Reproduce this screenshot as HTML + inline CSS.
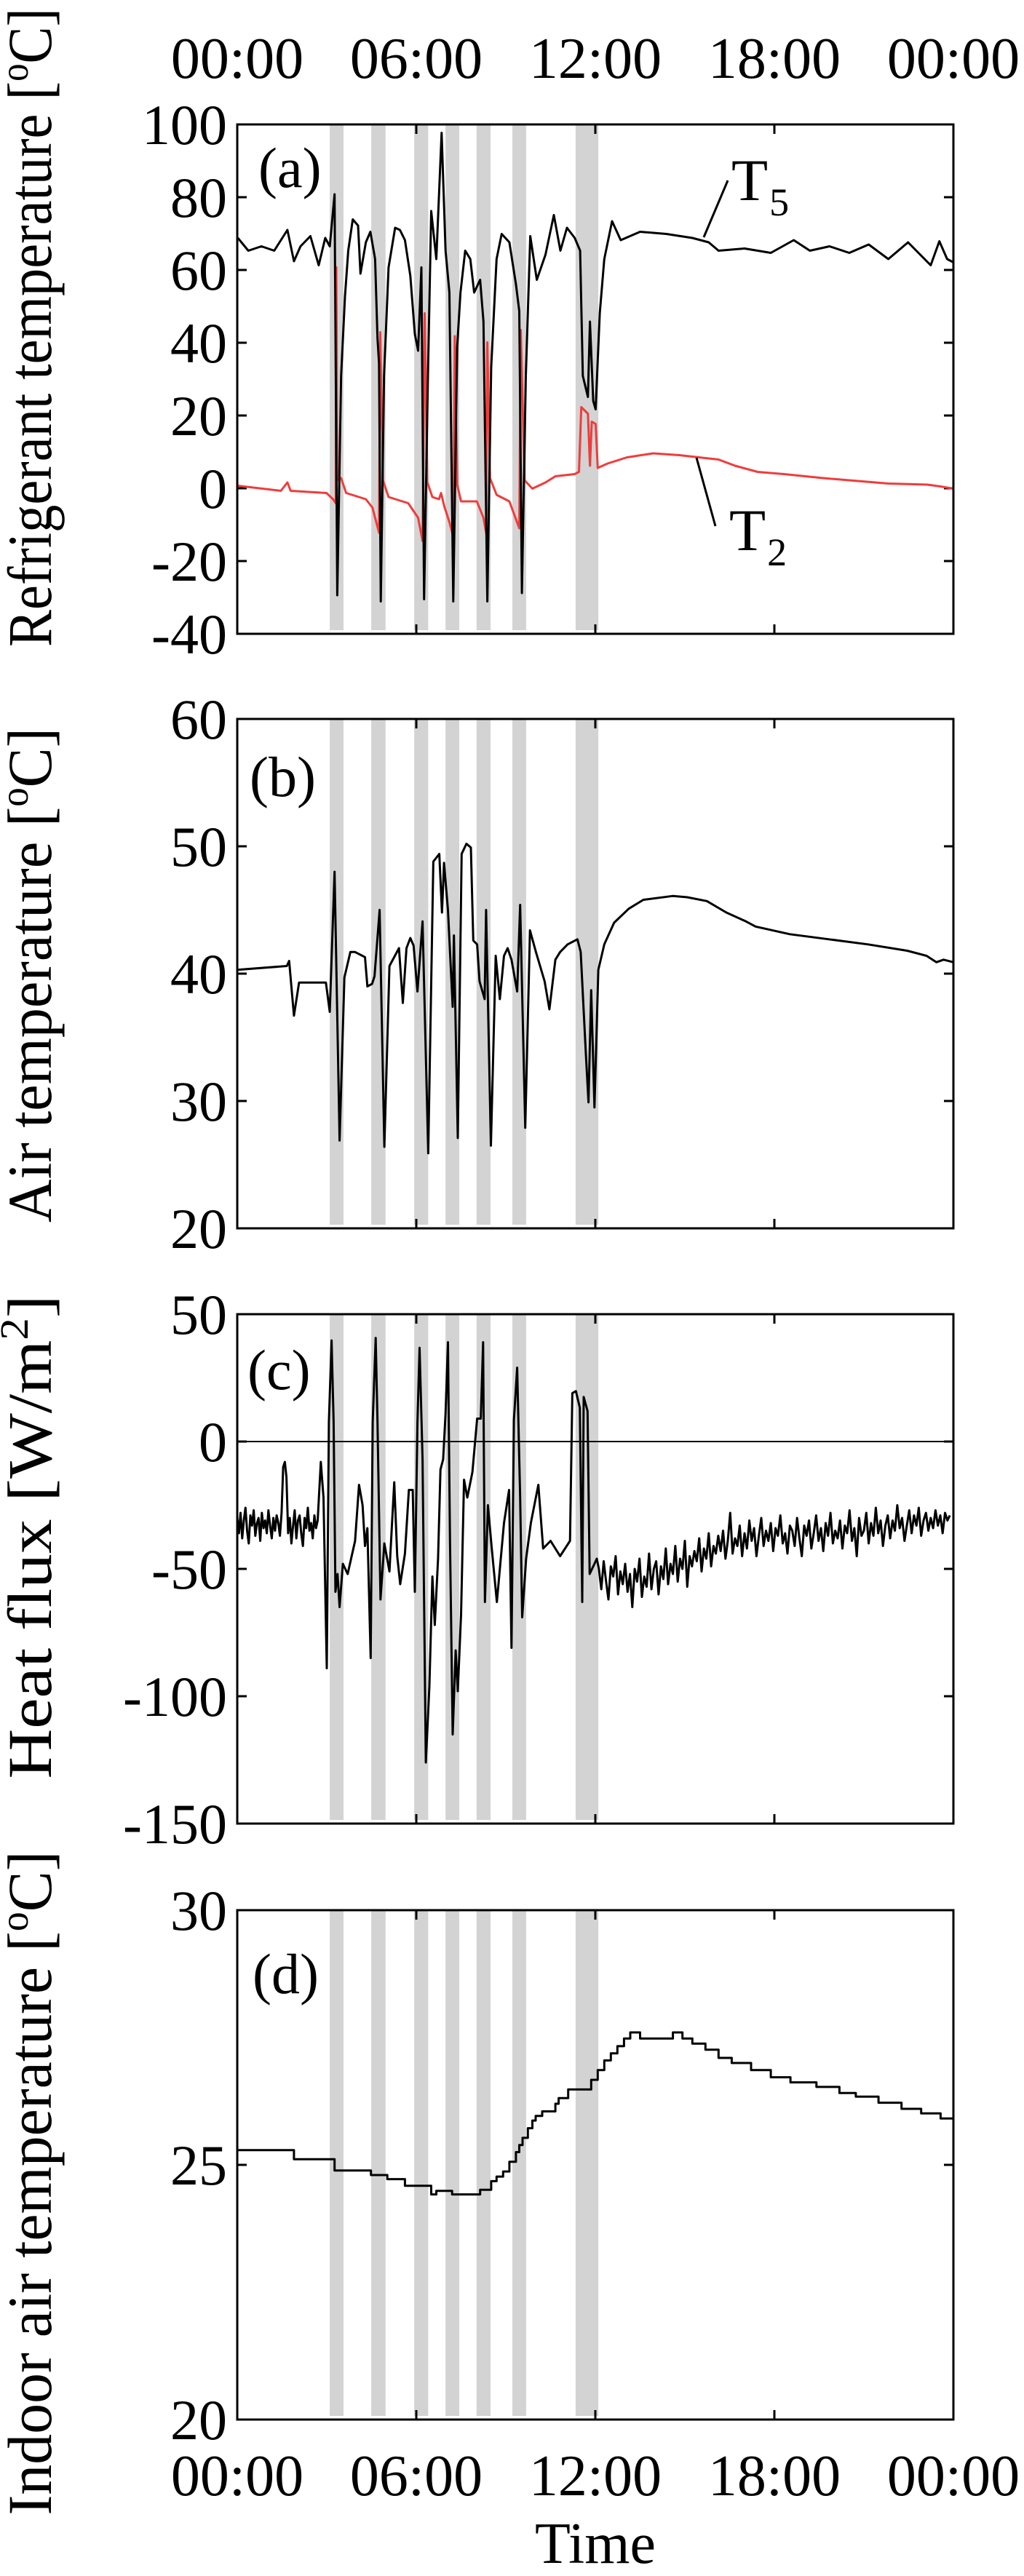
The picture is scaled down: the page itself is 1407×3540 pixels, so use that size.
<!DOCTYPE html>
<html><head><meta charset="utf-8"><style>
html,body{margin:0;padding:0;background:#fff;}
svg{display:block;font-family:"Liberation Serif",serif;}
</style></head><body>
<svg id="fig" width="1407" height="3540" viewBox="0 0 1407 3540" xmlns="http://www.w3.org/2000/svg"></svg>
<script>
// ---- data ----
const xTickLabels = ["00:00","06:00","12:00","18:00","00:00"];
const xTickHours = [0,6,12,18,24];
const shadeStart = [3.1,4.49,5.93,6.98,8.02,9.22,11.34];
const shadeEnd   = [3.56,4.97,6.4,7.44,8.49,9.68,12.1];

const t5Times = [0.02,0.37,0.81,1.24,1.68,1.9,2.12,2.45,2.73,2.95,3.1,3.26,3.35,3.48,3.61,3.72,3.87,4.05,4.13,4.31,4.46,4.62,4.7,4.75,4.81,4.92,5.07,5.29,5.45,5.62,5.8,5.95,6.06,6.17,6.26,6.39,6.5,6.67,6.85,6.98,7.11,7.24,7.37,7.48,7.64,7.81,7.94,8.14,8.25,8.38,8.51,8.69,8.86,9.12,9.34,9.45,9.54,9.67,9.82,10.04,10.33,10.61,10.83,11.05,11.31,11.49,11.58,11.75,11.82,11.93,12.01,12.15,12.3,12.56,12.85,13.5,14.38,15.25,15.8,16.13,17.0,17.88,18.65,19.19,19.85,20.51,21.16,21.82,22.48,23.24,23.53,23.79,24.0];
const t5Values = [68.8,65.3,66.5,65.3,71,62.4,66.5,69.3,61.3,68.8,66.5,80.8,-29.4,30.9,52.7,65.3,73.9,72.2,59,67.6,70.5,63,41.2,34.3,-31.1,30.9,60.7,71.6,71,68.2,58.4,42.4,37.8,60.7,-30.5,30.9,76.2,63,97.7,65.3,53.8,-31.1,38.9,53.8,65.3,63,53.8,57.3,45.8,-31.1,33.2,63,69.9,67.6,56.1,48.7,-28.8,30.9,69.3,57.3,64.2,75.1,65.3,71.6,68.8,65.3,30.9,25.1,45.8,24,21.7,48.1,63,73.4,68.2,70.5,69.9,68.8,67.6,65.3,65.9,64.7,68.2,65.3,66.5,64.7,67,63,67.6,61.3,67.9,63,62.1];

const t2Times = [0.02,1.46,1.68,1.79,2.99,3.21,3.3,3.32,3.35,3.48,3.65,4.31,4.53,4.75,4.79,4.88,5.07,5.73,6.06,6.21,6.28,6.37,6.54,6.76,6.83,6.94,7.11,7.24,7.29,7.37,7.5,8.03,8.25,8.34,8.38,8.47,8.69,9.12,9.45,9.5,9.63,9.89,10.33,10.66,11.31,11.45,11.53,11.75,11.82,11.88,12.01,12.08,12.41,13.06,13.94,14.82,15.47,16.13,16.68,17.44,18.32,19.63,20.51,21.82,23.13,23.57,24.0];
const t2Values = [0.7,-0.7,1.6,-0.7,-1.3,-3,-4.1,60.7,2.2,2.8,-1.3,-3,-5.3,-12.2,42.9,2.2,-2.4,-4.1,-8.1,-14.5,48.1,1.6,-2.4,-3,-1.3,-5,-9.3,-13.3,41.8,1,-3.6,-3.6,-8.1,-12.2,40.1,2.8,-1.8,-3.6,-11,43.5,2.2,-0.1,1.6,3.3,3.9,4.5,22.3,20.5,6.2,18.3,17.7,5.6,6.8,8.5,9.6,9.1,8.5,7.9,6.2,4.5,3.9,2.8,2.2,1.3,1,0.5,-0.1];

const airTimes = [0.0,1.66,1.74,1.9,2.07,2.97,3.1,3.26,3.43,3.59,3.79,3.95,4.28,4.36,4.52,4.6,4.77,4.93,5.1,5.42,5.55,5.67,5.8,5.91,6.04,6.21,6.4,6.57,6.77,6.86,6.93,7.06,7.22,7.26,7.39,7.52,7.68,7.83,7.91,8.04,8.12,8.29,8.34,8.5,8.66,8.8,8.94,9.06,9.19,9.38,9.48,9.65,9.81,10.01,10.3,10.46,10.66,10.82,11.07,11.4,11.51,11.68,11.77,11.86,11.97,12.1,12.3,12.63,13.12,13.61,14.59,15.08,15.74,16.39,17.05,17.37,18.52,19.83,21.14,22.45,23.1,23.43,23.67,24.0];
const airValues = [40.3,40.6,41,36.7,39.3,39.3,37,48,26.9,39.7,41.7,41.7,41.3,39,39.2,39.8,45,26.4,40.6,42,37.7,42,42.8,42.2,38.6,44.1,25.9,48.8,49.4,44.8,48.7,45,37.4,43,27.1,49.4,50.2,49.9,42.6,42.3,39.4,38,45,26.5,41.4,38,41.4,42,41.1,38.6,45.4,27.9,43.4,41.7,39.4,37.2,41.1,41.7,42.3,42.7,41.7,33.8,29.9,38.7,29.5,40.3,42.3,44,45.1,45.8,46.1,46,45.7,44.8,44.1,43.7,43.1,42.7,42.3,41.8,41.4,40.9,41.1,40.9];

const fluxQuietStart = 0, fluxQuietStep = 0.055;
const fluxQuietValues = [-30,-36,-28,-38,-31,-26,-35,-40,-29,-33,-27,-37,-32,-30,-39,-28,-34,-31,-36,-27,-33,-38,-30,-35,-29,-32,-37,-28,-10,-8,-14,-36,-30,-40,-33,-27,-38,-31,-29,-36,-41,-30,-34,-26,-35,-32,-38,-29,-34,-31];
const fluxEventTimes = [2.8,2.89,3.0,3.07,3.16,3.23,3.29,3.36,3.43,3.54,3.7,3.95,4.08,4.2,4.28,4.36,4.47,4.54,4.64,4.7,4.8,4.93,5.1,5.26,5.36,5.46,5.62,5.75,5.88,5.95,6.04,6.11,6.21,6.32,6.44,6.54,6.62,6.73,6.81,6.9,6.98,7.06,7.13,7.22,7.32,7.39,7.5,7.6,7.71,7.88,8.04,8.16,8.24,8.3,8.4,8.53,8.7,8.94,9.11,9.19,9.27,9.38,9.48,9.55,9.68,9.84,10.09,10.25,10.5,10.82,11.15,11.23,11.35,11.48,11.56,11.61,11.74,11.81,11.97,12.05];
const fluxEventValues = [-8,-22,-89,7.7,39.7,7.7,-59,-52,-65,-48,-52,-39,-17,-25,-41,-34,-85,7.7,40.7,7.7,-62,-40,-51,-16,-45,-56,-44,-19,-19,-59,7.7,36.8,-7,-126,-96,-53,-72,-46,-11,-7,11,39,-39,-115,-82,-98,-68,-15,-22,-12,9,9,39,-63,-25,-42,-63,-32,-19,-81,8.4,29,-22,-69,-46,-32,-17,-42,-39,-45,-39,19,19.8,13.3,-63,17.5,12,-52,-48,-46];
const fluxTailStart = 12.12, fluxTailStep = 0.08;
const fluxTailValues = [-50,-58,-47,-55,-62,-49,-53,-45,-60,-51,-56,
-48,-59,-52,-65,-50,-55,-46,-61,-53,-57,
-44,-58,-50,-47,-60,-49,-54,-42,-56,-48,
-52,-41,-55,-46,-50,-39,-57,-45,-49,-43,
-47,-38,-51,-42,-46,-36,-49,-41,-44,-37,
-43,-35,-46,-39,-28,-44,-38,-41,-33,-45,
-36,-42,-31,-39,-34,-45,-37,-30,-41,-35,
-39,-32,-43,-34,-37,-29,-40,-36,-44,-33,
-35,-41,-30,-38,-45,-33,-37,-31,-42,-36,
-29,-39,-34,-43,-32,-37,-28,-40,-35,-38,
-31,-42,-33,-36,-27,-39,-34,-45,-30,-37,
-35,-28,-40,-32,-37,-26,-36,-31,-41,-33,
-29,-38,-31,-35,-25,-34,-30,-39,-33,-27,
-36,-29,-33,-26,-37,-31,-28,-35,-30,-34,
-27,-33,-29,-36,-28,-31,-29];

const indoorTimes = [0.0,1.79,1.9,3.1,3.26,4.42,4.48,4.97,5.03,5.58,5.62,6.39,6.5,6.67,7.15,7.2,8.03,8.14,8.42,8.51,8.69,8.91,9.12,9.34,9.45,9.56,9.74,9.89,10.0,10.22,10.66,10.77,11.09,11.64,11.86,12.08,12.3,12.52,12.74,12.96,13.17,13.5,14.6,14.92,15.25,15.69,16.13,16.57,17.22,17.88,18.54,19.41,20.18,20.73,21.49,22.26,22.92,23.57];
const indoorValues = [25.29,25.29,25.11,25.11,24.89,24.89,24.8,24.8,24.72,24.72,24.59,24.59,24.42,24.49,24.49,24.42,24.42,24.51,24.51,24.68,24.77,24.87,25.06,25.25,25.39,25.53,25.72,25.87,25.96,26.05,26.2,26.31,26.48,26.48,26.67,26.86,27.05,27.19,27.33,27.48,27.6,27.48,27.6,27.48,27.38,27.26,27.1,27.0,26.86,26.72,26.62,26.53,26.41,26.34,26.22,26.1,26.01,25.91];

// ---- layout ----
const NS="http://www.w3.org/2000/svg";
const svg=document.getElementById('fig');
const X0=326, X1=1310, PH=700;
const xs=h=>X0+(h/24)*(X1-X0);
function el(tag,attrs,parent){const e=document.createElementNS(NS,tag);for(const k in attrs)e.setAttribute(k,attrs[k]);(parent||svg).appendChild(e);return e;}

const panels=[
 {id:'a',top:171,ymin:-40,ymax:100,ticks:[-40,-20,0,20,40,60,80,100],label:'(a)',lx:355,ly:257,title:'Refrigerant temperature [',titleEnd:'C]',tc:450,tl:878},
 {id:'b',top:988,ymin:20,ymax:60,ticks:[20,30,40,50,60],label:'(b)',lx:343,ly:1094,title:'Air temperature [',titleEnd:'C]',tc:1340,tl:680},
 {id:'c',top:1806,ymin:-150,ymax:50,ticks:[-150,-100,-50,0,50],label:'(c)',lx:340,ly:1909,title:'Heat flux [W/m',titleEnd:']',sq:true,tc:2112,tl:665},
 {id:'d',top:2625,ymin:20,ymax:30,ticks:[20,25,30],label:'(d)',lx:347,ly:2739,title:'Indoor air temperature [',titleEnd:'C]',tc:3000,tl:913}
];

panels.forEach(p=>{
  const ys=v=>p.top+PH-(v-p.ymin)/(p.ymax-p.ymin)*PH;
  p.ys=ys;
  const g=el('g',{});
  
  
  shadeStart.forEach((s,i)=>{
    const r=el('rect',{x:xs(s),y:p.top-1,width:xs(shadeEnd[i])-xs(s),height:PH-4,fill:'#d3d3d3'},g);
    
    
  });
  p.ticks.forEach(t=>{
    const y=ys(t);
    el('line',{x1:X0,y1:y,x2:X0+13,y2:y,stroke:'#000','stroke-width':3},g);
    el('line',{x1:X1-13,y1:y,x2:X1,y2:y,stroke:'#000','stroke-width':3},g);
    const tx=el('text',{x:312,y:y+27,'text-anchor':'end','font-size':78},g);
    tx.textContent=String(t);
    
    
  });
  xTickHours.forEach(h=>{
    const x=xs(h);
    el('line',{x1:x,y1:p.top,x2:x,y2:p.top+13,stroke:'#000','stroke-width':3},g);
    el('line',{x1:x,y1:p.top+PH-13,x2:x,y2:p.top+PH,stroke:'#000','stroke-width':3},g);
  });
  const pl=el('text',{x:p.lx,y:p.ly,'font-size':78},g);
  pl.textContent=p.label;
  
  
  // y title: rotated, fitted to measured length
  const tg=el('g',{transform:`translate(70,${p.tc}) rotate(-90)`},g);
  const tt=el('text',{x:-p.tl/2,y:0,'font-size':86,textLength:p.tl,lengthAdjust:'spacingAndGlyphs'},tg);
  
  
  const s1=el('tspan',{},tt); s1.textContent=p.title;
  const s2=el('tspan',{'font-size':55,dy:-32},tt); s2.textContent=p.sq?'2':'o';
  const s3=el('tspan',{dy:32},tt); s3.textContent=p.titleEnd;
});

function linePath(ts,vs,ys){return ts.map((t,i)=>(i?'L':'M')+xs(t).toFixed(1)+' '+ys(vs[i]).toFixed(1)).join(' ');}
function stepPath(ts,vs,ys){let d='M'+xs(ts[0])+' '+ys(vs[0]);for(let i=1;i<ts.length;i++){d+=' H'+xs(ts[i]).toFixed(1)+' V'+ys(vs[i]).toFixed(1);}d+=' H'+xs(24);return d;}
function addPath(d,color,w,name){const p=el('path',{d:d,fill:'none',stroke:color,'stroke-width':w,'stroke-linejoin':'round'});return p;}

addPath(linePath(t2Times,t2Values,panels[0].ys),'#f03c3c',3,'series-t2');
addPath(linePath(t5Times,t5Values,panels[0].ys),'#000',3,'series-t5');
addPath(linePath(airTimes,airValues,panels[1].ys),'#000',3,'series-air-temperature');
const zl=el('line',{x1:X0,y1:panels[2].ys(0),x2:X1,y2:panels[2].ys(0),stroke:'#000','stroke-width':2});


const fT=[],fV=[];
fluxQuietValues.forEach((v,i)=>{fT.push(fluxQuietStart+i*fluxQuietStep);fV.push(v);});
fluxEventTimes.forEach((t,i)=>{fT.push(t);fV.push(fluxEventValues[i]);});
fluxTailValues.forEach((v,i)=>{fT.push(fluxTailStart+i*fluxTailStep);fV.push(v);});
addPath(linePath(fT,fV,panels[2].ys),'#000',3,'series-heat-flux');
addPath(stepPath(indoorTimes,indoorValues,panels[3].ys),'#000',3,'series-indoor-temperature');

panels.forEach(p=>{
  const r=el('rect',{x:X0,y:p.top,width:X1-X0,height:PH,fill:'none',stroke:'#000','stroke-width':3});
  
  
});

xTickHours.forEach((h,i)=>{
  const a=el('text',{x:xs(h),y:107,'text-anchor':'middle','font-size':80});
  a.textContent=xTickLabels[i];
  
  
  const b=el('text',{x:xs(h),y:3429,'text-anchor':'middle','font-size':80});
  b.textContent=xTickLabels[i];
  
  
});
const xt=el('text',{x:818,y:3522,'text-anchor':'middle','font-size':80});
xt.textContent='Time';



const a5=el('line',{x1:967,y1:326,x2:1000,y2:248,stroke:'#000','stroke-width':3});


const l5=el('text',{x:1005,y:275,'font-size':82});


const l5a=el('tspan',{},l5); l5a.textContent='T';
const l5b=el('tspan',{'font-size':54,dy:21,dx:2},l5); l5b.textContent='5';
const a2=el('line',{x1:957,y1:629,x2:983,y2:723,stroke:'#000','stroke-width':3});


const l2=el('text',{x:1002,y:756,'font-size':82});


const l2a=el('tspan',{},l2); l2a.textContent='T';
const l2b=el('tspan',{'font-size':54,dy:21,dx:2},l2); l2b.textContent='2';
</script>
</body></html>
